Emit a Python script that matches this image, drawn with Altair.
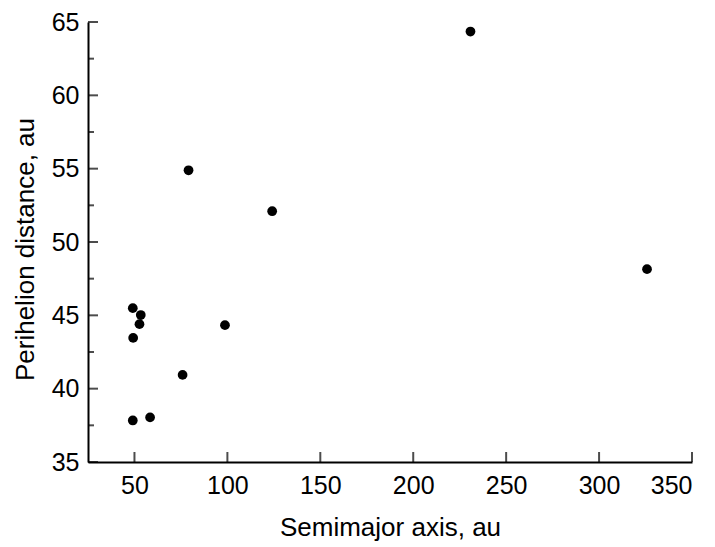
import altair as alt
import pandas as pd

# Data
semimajor = [230.8, 79.1, 124.1, 325.8, 49.1, 53.4, 52.7, 49.3, 98.7, 75.9, 49.1, 58.4]
perihelion = [64.35, 54.89, 52.1, 48.15, 45.49, 45.02, 44.4, 43.46, 44.33, 40.94, 37.83, 38.04]

x_ticks = [50, 100, 150, 200, 250, 300, 350]
y_ticks = [35, 40, 45, 50, 55, 60, 65]
y_minor_ticks = [37.5, 42.5, 47.5, 52.5, 57.5, 62.5]

W, H = 604, 440
FONT = "Liberation Sans"

pts = pd.DataFrame({"a": semimajor, "q": perihelion})
xt = pd.DataFrame({"v": x_ticks})
yt = pd.DataFrame({"v": y_ticks})
ymt = pd.DataFrame({"v": y_minor_ticks})

xscale = alt.Scale(domain=[25, 350], nice=False, zero=False)
yscale = alt.Scale(domain=[35, 65], nice=False, zero=False)

points = alt.Chart(pts).mark_circle(size=95, color="black", opacity=1).encode(
    x=alt.X("a:Q", scale=xscale,
            axis=alt.Axis(title="Semimajor axis, au", values=x_ticks,
                          labelPadding=11, titleX=W / 2, titleY=73,
                          titleBaseline="alphabetic")),
    y=alt.Y("q:Q", scale=yscale,
            axis=alt.Axis(title="Perihelion distance, au", values=y_ticks,
                          labelPadding=9, titleX=-55, titleY=227,
                          titleBaseline="alphabetic", titleAngle=-90,
                          titleAlign="center")),
)

xtick_layer = alt.Chart(xt).mark_tick(
    orient="vertical", size=10, thickness=2, color="black", yOffset=-5
).encode(
    x=alt.X("v:Q", scale=xscale, title="Semimajor axis, au"),
    y=alt.value(H),
)

ytick_layer = alt.Chart(yt).mark_tick(
    orient="horizontal", size=10, thickness=2, color="black", xOffset=5
).encode(
    y=alt.Y("v:Q", scale=yscale, title="Perihelion distance, au"),
    x=alt.value(0),
)

yminor_layer = alt.Chart(ymt).mark_tick(
    orient="horizontal", size=6, thickness=2, color="black", xOffset=3
).encode(
    y=alt.Y("v:Q", scale=yscale, title="Perihelion distance, au"),
    x=alt.value(0),
)

chart = alt.layer(points, xtick_layer, ytick_layer, yminor_layer).properties(
    width=W, height=H,
    autosize=alt.AutoSizeParams(type="none"),
    padding={"left": 80, "top": 14, "right": 15, "bottom": 79},
    background="white",
).configure_view(strokeWidth=0).configure_axis(
    domainColor="black", domainWidth=2, ticks=False, grid=False,
    labelFont=FONT, labelFontSize=25, labelColor="black",
    titleFont=FONT, titleFontSize=26, titleFontWeight="normal", titleColor="black",
)

chart.save("out.html", embed_options={"renderer": "svg", "actions": False})
